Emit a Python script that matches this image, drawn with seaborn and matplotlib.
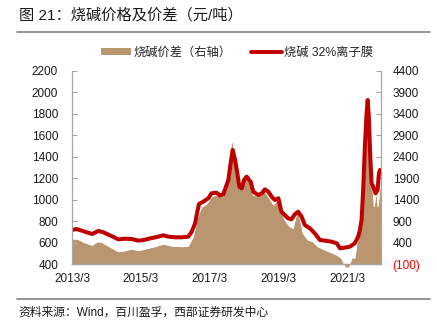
import matplotlib
matplotlib.use("Agg")
import matplotlib.pyplot as plt
from matplotlib.lines import Line2D
from matplotlib.patches import Patch
import pandas as pd
import seaborn as sns

# 烧碱 32%离子膜 price (元/吨, left axis)
price_dates = [
    "2013-03-01", "2013-04-20", "2013-07-15", "2013-10-01", "2013-12-05", "2014-01-28",
    "2014-04-05", "2014-07-05", "2014-09-12", "2014-11-25", "2015-02-01", "2015-04-12",
    "2015-06-03", "2015-09-01", "2015-10-25", "2015-12-15", "2016-02-25", "2016-05-05",
    "2016-07-15", "2016-08-20", "2016-09-25", "2016-10-22", "2016-11-05", "2016-12-20",
    "2017-02-12", "2017-03-18", "2017-05-10", "2017-06-15", "2017-07-20", "2017-09-12",
    "2017-10-06", "2017-10-28", "2017-11-22", "2017-12-16", "2018-01-06", "2018-02-01",
    "2018-02-25", "2018-03-25", "2018-05-06", "2018-06-03", "2018-07-25", "2018-09-01",
    "2018-10-04", "2018-11-10", "2018-12-15", "2019-01-18", "2019-02-24", "2019-03-28",
    "2019-05-03", "2019-06-06", "2019-07-12", "2019-08-18", "2019-09-21", "2019-10-28",
    "2019-12-01", "2020-01-24", "2020-03-15", "2020-05-09", "2020-07-01", "2020-09-10",
    "2020-11-03", "2020-12-07", "2021-02-01", "2021-03-22", "2021-05-13", "2021-06-18",
    "2021-07-06", "2021-07-24", "2021-08-10", "2021-08-28", "2021-09-15", "2021-09-27",
    "2021-10-10", "2021-10-24", "2021-11-07", "2021-11-25", "2021-12-19", "2022-01-10",
    "2022-01-24", "2022-02-04", "2022-02-15",
]
price_values = [
    719, 728, 703, 682, 710, 697,
    670, 632, 638, 635, 620, 628,
    640, 657, 670, 657, 651, 651,
    657, 703, 781, 905, 961, 982,
    1014, 1060, 1066, 1040, 1050, 1184,
    1339, 1463, 1370, 1246, 1121, 1106,
    1184, 1215, 1168, 1075, 1044, 1060,
    1097, 1075, 1028, 998, 1014, 889,
    858, 828, 818, 866, 889, 843,
    765, 735, 688, 626, 620, 610,
    595, 549, 556, 564, 595, 657,
    719, 812, 1091, 1493, 1804, 1928,
    1742, 1400, 1153, 1121, 1060, 1091,
    1246, 1277, 1261,
]

# 烧碱价差 (元/吨, right axis)
spread_dates = [
    "2013-03-01", "2013-05-05", "2013-07-15", "2013-10-01", "2013-11-25", "2014-01-10",
    "2014-03-20", "2014-07-05", "2014-09-12", "2014-11-25", "2015-02-01", "2015-05-01",
    "2015-07-25", "2015-10-25", "2016-01-20", "2016-05-05", "2016-07-15", "2016-09-05",
    "2016-10-25", "2016-12-01", "2017-01-25", "2017-03-18", "2017-05-10", "2017-06-15",
    "2017-07-20", "2017-08-05", "2017-09-12", "2017-10-18", "2017-11-02", "2017-12-01",
    "2017-12-25", "2018-02-01", "2018-03-10", "2018-04-15", "2018-06-03", "2018-07-25",
    "2018-09-20", "2018-11-10", "2019-01-05", "2019-02-10", "2019-03-15", "2019-05-03",
    "2019-06-25", "2019-07-30", "2019-09-15", "2019-10-08", "2019-11-12", "2020-01-03",
    "2020-02-25", "2020-04-18", "2020-07-01", "2020-09-10", "2020-11-03", "2020-12-25",
    "2021-02-01", "2021-03-10", "2021-04-15", "2021-05-13", "2021-06-05", "2021-07-06",
    "2021-08-10", "2021-08-28", "2021-09-18", "2021-10-01", "2021-10-20", "2021-11-07",
    "2021-12-05", "2021-12-30", "2022-01-15", "2022-02-04", "2022-02-15",
]
spread_values = [
    490, 481, 402, 342, 425, 411,
    325, 193, 216, 256, 216, 264,
    309, 372, 325, 309, 325, 542,
    1006, 1224, 1302, 1471, 1511, 1511,
    1471, 1627, 2248, 2750, 2713, 2092,
    1704, 1783, 2015, 1899, 1511, 1471,
    1667, 1471, 1278, 1395, 1239, 930,
    774, 737, 1162, 1006, 621, 465,
    425, 309, 232, 170, 116, 39,
    -160, -160, 60, 40, 388, 621,
    1239, 2633, 3719, 3875, 3410, 2015,
    1239, 1627, 1239, 1704, 1650,
]

left_ticks = list(range(400, 2201, 200))
right_ticks = list(range(-100, 4401, 500))
x_tick_years = [2013, 2015, 2017, 2019, 2021]

BROWN = "#B9966F"
RED = "#C00000"
AXIS_GRAY = "#A6A6A6"

sns.set_theme(style="white")
plt.rcParams["font.family"] = ["Liberation Sans", "Noto Sans CJK SC", "DejaVu Sans"]

price = pd.DataFrame({"date": pd.to_datetime(price_dates), "price": price_values})
spread = pd.DataFrame({"date": pd.to_datetime(spread_dates), "spread": spread_values})

fig = plt.figure(figsize=(4.37, 3.33), dpi=100)
ax = fig.add_axes([0.1648, 0.2063, 0.7071, 0.5814])
ax2 = ax.twinx()

# spread as a filled area on the right axis
ax2.fill_between(spread["date"], spread["spread"], -100, color=BROWN,
                 linewidth=0, clip_on=False)
sns.lineplot(data=spread, x="date", y="spread", ax=ax2, color="white",
             linewidth=0.7, legend=False)

# price line on the left axis, drawn above the area
sns.lineplot(data=price, x="date", y="price", ax=ax, color=RED,
             linewidth=2.9, legend=False)
ax.set_zorder(ax2.get_zorder() + 1)
ax.patch.set_visible(False)

ax.set_xlim(pd.Timestamp("2013-03-01"), pd.Timestamp("2022-02-15"))
ax.set_ylim(left_ticks[0], left_ticks[-1])
ax2.set_ylim(right_ticks[0], right_ticks[-1])

ax.set_xticks([pd.Timestamp(f"{y}-03-01") for y in x_tick_years])
ax.set_xticklabels([f"{y}/3" for y in x_tick_years])
ax.set_yticks(left_ticks)
ax.set_yticklabels([str(v) for v in left_ticks])
ax2.set_yticks(right_ticks)
right_labels = ax2.set_yticklabels(
    [f"({abs(v)})" if v < 0 else str(v) for v in right_ticks])
for lab, v in zip(right_labels, right_ticks):
    lab.set_color("#FF0000" if v < 0 else "#1A1A1A")

for a in (ax, ax2):
    a.set_xlabel("")
    a.set_ylabel("")
    a.spines["top"].set_visible(False)
    for s in a.spines.values():
        s.set_color(AXIS_GRAY)
        s.set_linewidth(0.9)
ax.spines["right"].set_visible(False)
ax2.spines["left"].set_visible(False)

ax.tick_params(axis="y", direction="in", length=3.5, width=0.8, color=AXIS_GRAY,
               pad=10, labelsize=8.5, labelcolor="#1A1A1A")
ax.tick_params(axis="x", direction="in", length=3.5, width=0.8, color=AXIS_GRAY,
               pad=6.5, labelsize=8.5, labelcolor="#1A1A1A")
ax2.tick_params(axis="y", direction="in", length=3.5, width=0.8, color=AXIS_GRAY,
                pad=8.4, labelsize=8.5)

handles = [
    Patch(facecolor=BROWN, edgecolor="none", label="烧碱价差（右轴）"),
    Line2D([0], [0], color=RED, linewidth=2.8, label="烧碱 32%离子膜"),
]
fig.legend(handles=handles, loc="center", bbox_to_anchor=(0.542, 0.841), ncol=2,
           frameon=False, fontsize=8.8, handlelength=2.5, handleheight=0.55,
           handletextpad=0.2, columnspacing=1.6)

fig.text(19 / 437, 1 - 15 / 333, "图 21：烧碱价格及价差（元/吨）", ha="left",
         va="center", fontsize=11, color="#1A1A1A")
fig.add_artist(Line2D([17 / 437, 430 / 437], [1 - 32 / 333] * 2,
                      transform=fig.transFigure, color="#808080", linewidth=1.2))
fig.add_artist(Line2D([17 / 437, 430 / 437], [1 - 299 / 333] * 2,
                      transform=fig.transFigure, color="#808080", linewidth=1.2))
fig.text(18 / 437, 1 - 313 / 333, "资料来源：Wind，百川盈孚，西部证券研发中心",
         ha="left", va="center", fontsize=8.5, color="#1A1A1A")

fig.savefig("out.png", dpi=100, facecolor="white")
